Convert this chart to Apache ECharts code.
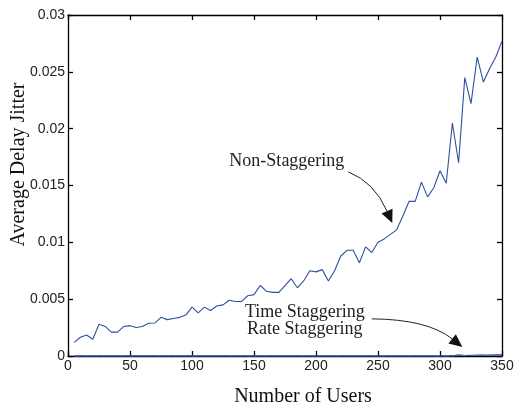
<!DOCTYPE html>
<html>
<head>
<meta charset="utf-8">
<script src="https://cdn.jsdelivr.net/npm/echarts@6/dist/echarts.min.js"></script>
<style>
  html, body { margin: 0; padding: 0; background: #fff; }
  #chart { width: 514px; height: 404px; }
</style>
</head>
<body>
<div id="chart"></div>
<script>
// Number of users (x axis)
const users = [
  5, 10, 15, 20, 25, 30, 35, 40, 45, 50,
  55, 60, 65, 70, 75, 80, 85, 90, 95, 100,
  105, 110, 115, 120, 125, 130, 135, 140, 145, 150,
  155, 160, 165, 170, 175, 180, 185, 190, 195, 200,
  205, 210, 215, 220, 225, 230, 235, 240, 245, 250,
  255, 260, 265, 270, 275, 280, 285, 290, 295, 300,
  305, 310, 315, 320, 325, 330, 335, 340, 345, 350
];

// Average delay jitter without staggering
const nonStaggering = [
  0.0012, 0.00165, 0.00185, 0.00147, 0.0028, 0.0026, 0.0021, 0.0021, 0.0026, 0.00267,
  0.0025, 0.0026, 0.00288, 0.0029, 0.0034, 0.0032, 0.0033, 0.0034, 0.0036, 0.0043,
  0.0038, 0.0043, 0.0040, 0.0044, 0.0045, 0.0049, 0.0048, 0.0048, 0.0053, 0.0054,
  0.0062, 0.0057, 0.0056, 0.0056, 0.0062, 0.0068, 0.0060, 0.0066, 0.0075, 0.0074,
  0.0076, 0.0066, 0.0075, 0.0088, 0.0093, 0.0093, 0.0082, 0.0096, 0.0091, 0.0100,
  0.0103, 0.0107, 0.0111, 0.0123, 0.0136, 0.0136, 0.0153, 0.0140, 0.0148, 0.0163,
  0.0152, 0.0205, 0.0170, 0.0245, 0.0222, 0.0263, 0.0241, 0.0253, 0.0263, 0.0277
];

// Average delay jitter with time staggering
const timeStaggering = [
  0, 0, 0, 0, 0, 0, 0, 0, 0, 0,
  0, 0, 0, 0, 0, 0, 0, 0, 0, 0,
  0, 0, 0, 0, 0, 0, 0, 0, 0, 0,
  0, 0, 0, 0, 0, 0, 0, 0, 0, 0,
  0, 0, 0, 0, 0, 0, 0, 0, 0, 0,
  0, 0, 0, 0, 0, 0, 0, 0, 0, 0,
  0, 0.00002, 0.00009, 0.00004, 0.00006, 0.00007, 0.00008, 0.00008, 0.00009, 0.0001
];

// Average delay jitter with rate staggering
const rateStaggering = [
  0, 0, 0, 0, 0, 0, 0, 0, 0, 0,
  0, 0, 0, 0, 0, 0, 0, 0, 0, 0,
  0, 0, 0, 0, 0, 0, 0, 0, 0, 0,
  0, 0, 0, 0, 0, 0, 0, 0, 0, 0,
  0, 0, 0, 0, 0, 0, 0, 0, 0, 0,
  0, 0, 0, 0, 0, 0, 0, 0, 0, 0,
  0, 0, 0.00005, 0.00002, 0.00004, 0.00005, 0.00006, 0.00006, 0.00007, 0.00008
];

// Annotation texts and their anchor points in data space
const annotations = [
  { lines: ['Non-Staggering'], at: [176.5, 0.0171],
    arrowFrom: [226, 0.0162], arrowCtrl: [247, 0.0153], arrowTo: [261.5, 0.0117] },
  { lines: ['Time Staggering', 'Rate Staggering'], at: [191, 0.0031],
    arrowFrom: [245, 0.00327], arrowCtrl: [290, 0.00322], arrowTo: [318, 0.0008] }
];

const LINE_COLOR = '#2f4fa3';
const pair = (xs, ys) => xs.map((x, i) => [x, ys[i]]);

const axisLineStyle = { show: true, onZero: false, lineStyle: { color: '#000', width: 1.3 } };
const tickStyle = { show: true, inside: true, length: 5, lineStyle: { color: '#000', width: 1.3 } };
const tickFont = { fontFamily: 'Liberation Sans, Arial, sans-serif', fontSize: 14, color: '#222' };

const chart = echarts.init(document.getElementById('chart'), null, { renderer: 'canvas' });

chart.setOption({
  animation: false,
  backgroundColor: '#fff',
  grid: { left: 68, right: 12, top: 15, bottom: 48, containLabel: false, outerBoundsMode: 'none' },
  xAxis: [
    {
      type: 'value', min: 0, max: 350, interval: 50, position: 'bottom',
      axisLine: axisLineStyle, axisTick: tickStyle, splitLine: { show: false },
      axisLabel: Object.assign({ margin: 3 }, tickFont),
      name: 'Number of Users', nameLocation: 'middle', nameGap: 31,
      nameTextStyle: { fontFamily: 'Liberation Serif, Times New Roman, serif', fontSize: 20, color: '#111', padding: [0, 0, 0, 36] }
    },
    {
      type: 'value', min: 0, max: 350, interval: 50, position: 'top',
      axisLine: axisLineStyle, axisTick: tickStyle, splitLine: { show: false },
      axisLabel: { show: false }
    }
  ],
  yAxis: [
    {
      type: 'value', min: 0, max: 0.03, interval: 0.005, position: 'left',
      axisLine: axisLineStyle, axisTick: tickStyle, splitLine: { show: false },
      axisLabel: Object.assign({ margin: 3, formatter: v => String(+v.toFixed(3)) }, tickFont),
      name: 'Average Delay Jitter', nameLocation: 'middle', nameGap: 39, nameMoveOverlap: false,
      nameTextStyle: { fontFamily: 'Liberation Serif, Times New Roman, serif', fontSize: 20, color: '#111', padding: [0, 0, 0, 42] }
    },
    {
      type: 'value', min: 0, max: 0.03, interval: 0.005, position: 'right',
      axisLine: axisLineStyle, axisTick: tickStyle, splitLine: { show: false },
      axisLabel: { show: false }
    }
  ],
  series: [
    {
      name: 'Non-Staggering', type: 'line', data: pair(users, nonStaggering),
      showSymbol: false, lineStyle: { color: LINE_COLOR, width: 1.1 }, z: 3
    },
    {
      name: 'Time Staggering', type: 'line', data: pair(users, timeStaggering),
      showSymbol: false, lineStyle: { color: LINE_COLOR, width: 1.3 }, z: 4
    },
    {
      name: 'Rate Staggering', type: 'line', data: pair(users, rateStaggering),
      showSymbol: false, lineStyle: { color: '#4a68b8', width: 1.1, type: [6, 3] }, z: 4
    }
  ]
});

// Callout texts with curved arrows, anchored in data coordinates
const px = p => chart.convertToPixel({ xAxisIndex: 0, yAxisIndex: 0 }, p);
const graphics = [];
annotations.forEach(a => {
  const c = px(a.at);
  graphics.push({
    type: 'text', x: c[0], y: c[1],
    style: {
      text: a.lines.join('\n'), fill: '#222',
      font: '18px "Liberation Serif", "Times New Roman", serif',
      lineHeight: 17, align: 'center', verticalAlign: 'middle'
    }
  });
  const p0 = px(a.arrowFrom), p1 = px(a.arrowCtrl), p2 = px(a.arrowTo);
  // direction at the end of the quadratic curve
  const dx = p2[0] - p1[0], dy = p2[1] - p1[1];
  const len = Math.hypot(dx, dy);
  const ux = dx / len, uy = dy / len;
  const headLen = 13, headHalf = 6;
  const bx = p2[0] - ux * headLen, by = p2[1] - uy * headLen;
  graphics.push({
    type: 'bezierCurve',
    shape: { x1: p0[0], y1: p0[1], cpx1: p1[0], cpy1: p1[1], x2: bx, y2: by },
    style: { stroke: '#222', lineWidth: 1, fill: null }
  });
  graphics.push({
    type: 'polygon',
    shape: { points: [
      [p2[0], p2[1]],
      [bx - uy * headHalf, by + ux * headHalf],
      [bx + uy * headHalf, by - ux * headHalf]
    ] },
    style: { fill: '#111' }
  });
});
chart.setOption({ graphic: graphics });
</script>
</body>
</html>
